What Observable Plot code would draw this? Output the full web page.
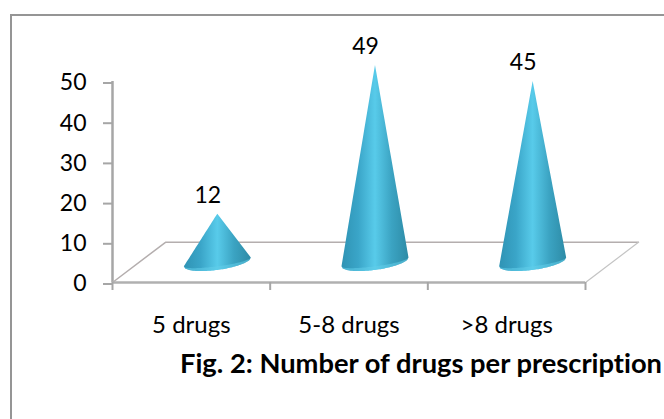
<!DOCTYPE html>
<html>
<head>
<meta charset="utf-8">
<script src="https://cdn.jsdelivr.net/npm/d3@7"></script>
<script src="https://cdn.jsdelivr.net/npm/@observablehq/plot@0.6"></script>
<style>
html,body{margin:0;padding:0;background:#fff;overflow:hidden}
#chart{position:relative;width:664px;height:419px}
#frame{position:absolute;left:10px;top:14px;right:-5px;bottom:-5px;border:2.5px solid #959595;box-sizing:border-box}
#chart svg{position:absolute;left:0;top:0;background:transparent}
#chart svg text{font-variant-ligatures:none}
#cap{position:absolute;left:180px;top:347px;font:bold 27.3px Lato,sans-serif;font-variant-ligatures:none;color:#000;white-space:nowrap;line-height:32px}
</style>
</head>
<body>
<div id="chart"><div id="frame"></div></div>
<script>
const categories = ["5 drugs", "5-8 drugs", ">8 drugs"];
const values = [12, 49, 45];
const yTicks = [0, 10, 20, 30, 40, 50];
const boundaries = [0, 1, 2, 3];
const captionText = "Fig. 2: Number of drugs per prescription";

// 3-D box depth of the chart floor, in scale units
const depthX = 0.336, depthY = 10;
const floorBack = [[3 + depthX, depthY], [depthX, depthY], [0, 0]];
const floorSide = [[3, 0], [3 + depthX, depthY]];

// Cone geometry, built from each value; base sits mid-depth on the floor
const baseY = depthY / 2, halfW = 0.2125, ry = 2, tilt = 1.1, rim = 0.9;
const coneCenter = i => i + 0.5 + depthX / 2;
const ts = d3.range(-1, 1.0001, 0.04);
const cones = values.map((v, i) => ts.map(t => {
  const edge = baseY + tilt * Math.sign(t);
  const tip = baseY + v;
  const bot = baseY + tilt * t - ry * Math.sqrt(Math.max(0, 1 - t * t));
  return {
    x: coneCenter(i) + halfW * t,
    top: tip + (edge - tip) * Math.abs(t),
    bot,
    rimTop: bot + rim * Math.sqrt(Math.max(0, 1 - t * t))
  };
}));

const areas = cones.flatMap(c => [
  Plot.areaY(c, {x: "x", y1: "bot", y2: "top", fill: "url(#coneGrad)"}),
  Plot.areaY(c, {x: "x", y1: "bot", y2: "rimTop", fill: "#62cdea", fillOpacity: 0.55})
]);

const plot = Plot.plot({
  width: 664, height: 419,
  marginLeft: 112, marginRight: 79, marginTop: 81, marginBottom: 137,
  style: {fontFamily: "Lato, sans-serif", background: "transparent"},
  x: {domain: [0, 3], axis: null},
  y: {domain: [0, 50], axis: null},
  marks: [
    Plot.ruleX([0], {y1: 0, y2: 50, stroke: "#a6a6a6", strokeWidth: 2.5}),
    Plot.line(floorBack, {x: d => d[0], y: d => d[1], stroke: "#b4aeae", strokeWidth: 1.5}),
    Plot.line(floorSide, {x: d => d[0], y: d => d[1], stroke: "#c4c4c4", strokeWidth: 1.2}),
    Plot.ruleY([0], {x1: 0, x2: 3, stroke: "#b0b0b0", strokeWidth: 2.5}),
    Plot.axisY({ticks: yTicks, tickSize: 9, tickPadding: 17, label: null, fontSize: 23, dy: 1.5, stroke: "#a6a6a6", strokeWidth: 2, fill: "#000", tickFormat: d3.format("d")}),
    Plot.axisX({ticks: boundaries, tickSize: 8, tickFormat: () => "", label: null, stroke: "#a6a6a6", strokeWidth: 2}),
    ...areas,
    Plot.text(values, {x: (d, i) => coneCenter(i), y: d => baseY + d, text: d => String(d), dx: -10, dy: -19, fontSize: 23, fill: "#000"}),
    Plot.text(categories, {x: (d, i) => i + 0.5, y: () => 0, text: d => d, dy: 43, fontSize: 24, fill: "#000"})
  ]
});

const defs = d3.create("svg:defs");
const g = defs.append("linearGradient").attr("id", "coneGrad").attr("x1", 0).attr("x2", 1).attr("y1", 0).attr("y2", 0);
[[0, "#2f93b4"], [0.25, "#3aa5c8"], [0.5, "#58cbea"], [0.75, "#3ba3c2"], [1, "#2d8ba6"]].forEach(([o, c]) => g.append("stop").attr("offset", o).attr("stop-color", c));
plot.insertBefore(defs.node(), plot.firstChild);

const chart = document.getElementById("chart");
chart.appendChild(plot);
const cap = document.createElement("div");
cap.id = "cap";
cap.textContent = captionText;
chart.appendChild(cap);
</script>
</body>
</html>
